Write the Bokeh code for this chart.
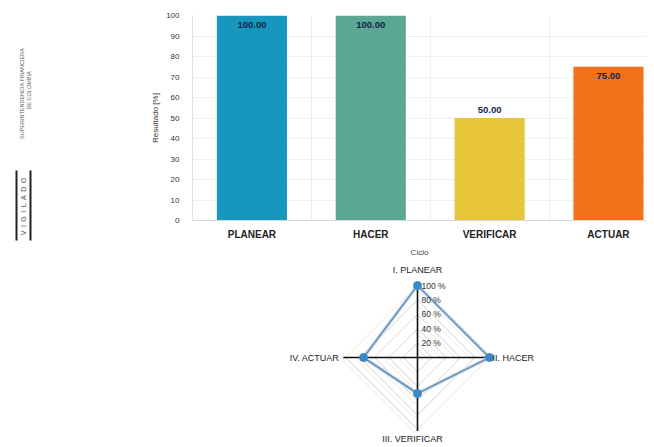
from bokeh.plotting import figure
from bokeh.layouts import column, row
from bokeh.models import Range1d, FixedTicker, ColumnDataSource, Spacer
from bokeh.core.properties import value
from bokeh.embed import file_html
from bokeh.resources import INLINE
import math

# ---------------- data ----------------
categories = ["PLANEAR", "HACER", "VERIFICAR", "ACTUAR"]
results = [100, 100, 50, 75]
bar_colors = ["#1796be", "#5ba794", "#e8c63c", "#f2711b"]
y_ticks = [0, 10, 20, 30, 40, 50, 60, 70, 80, 90, 100]

radar_labels = ["I. PLANEAR", "II. HACER", "III. VERIFICAR", "IV. ACTUAR"]
radar_values = [100, 100, 50, 75]
radar_levels = [20, 40, 60, 80, 100]
radar_level_labels = ["20 %", "40 %", "60 %", "80 %", "100 %"]

FONT = "Liberation Sans"
LEFT_W = 138

# ---------------- left decoration ----------------
left = figure(width=LEFT_W, height=447, output_backend="svg", toolbar_location=None, title=None,
              x_range=Range1d(0, LEFT_W), y_range=Range1d(447, 0), min_border=0,
              x_axis_location=None, y_axis_location=None)
left.grid.visible = False
left.outline_line_color = None
left.text(x=[21], y=[93], text=["SUPERINTENDENCIA FINANCIERA"], angle=math.pi / 2,
          text_align="center", text_baseline="middle", text_font=value(FONT),
          text_font_size="5.5px", text_color="#666666")
left.text(x=[28], y=[90], text=["DE COLOMBIA"], angle=math.pi / 2,
          text_align="center", text_baseline="middle", text_font=value(FONT),
          text_font_size="5.5px", text_color="#666666")
left.text(x=[23], y=[206], text=["\u2002".join("VIGILADO")], angle=math.pi / 2,
          text_align="center", text_baseline="middle", text_font=value(FONT),
          text_font_size="7px", text_color="#555555")
left.segment(x0=[16, 30], y0=[170, 170], x1=[16, 30], y1=[240, 240],
             line_color="#222222", line_width=2)

# ---------------- bar chart ----------------
xs = list(range(len(categories)))
p = figure(width=646 - LEFT_W, height=260, output_backend="svg", toolbar_location=None, title=None,
           x_range=Range1d(-0.5, 3.32), y_range=Range1d(0, 100),
           min_border_left=192 - LEFT_W, min_border_right=0, min_border_top=15, min_border_bottom=40)
p.outline_line_color = None
p.vbar(x=xs, top=results, width=0.59, fill_color=bar_colors, line_color=None)

# value labels: inside bar when tall, above otherwise
lab_off = [9 if v >= 60 else -8 for v in results]
src = ColumnDataSource(dict(x=xs, y=results, t=["%.2f" % v for v in results], off=lab_off))
p.text(x="x", y="y", text="t", y_offset="off", source=src, text_align="center",
       text_baseline="middle", text_font=value(FONT), text_font_size="9.5px",
       text_font_style="bold", text_color="#13234a")

p.xaxis.ticker = FixedTicker(ticks=xs)
p.xaxis.major_label_overrides = {i: c for i, c in zip(xs, categories)}
p.xaxis.major_tick_line_color = None
p.xaxis.major_tick_out = 0
p.xaxis.major_tick_in = 0
p.xaxis.minor_tick_line_color = None
p.xaxis.axis_line_color = "#d8d8d8"
p.xaxis.major_label_text_font = FONT
p.xaxis.major_label_text_font_size = "10px"
p.xaxis.major_label_text_font_style = "bold"
p.xaxis.major_label_text_color = "#222222"
p.xaxis.major_label_standoff = 8
p.xaxis.axis_label = "Ciclo"
p.xaxis.axis_label_text_font = FONT
p.xaxis.axis_label_text_font_size = "8px"
p.xaxis.axis_label_text_font_style = "normal"
p.xaxis.axis_label_text_color = "#444444"
p.xaxis.axis_label_standoff = 5

p.yaxis.ticker = FixedTicker(ticks=y_ticks)
p.yaxis.major_tick_line_color = None
p.yaxis.major_tick_out = 0
p.yaxis.major_tick_in = 0
p.yaxis.minor_tick_line_color = None
p.yaxis.axis_line_color = "#e0e0e0"
p.yaxis.major_label_text_font = FONT
p.yaxis.major_label_text_font_size = "8px"
p.yaxis.major_label_text_color = "#333333"
p.yaxis.major_label_standoff = 13
p.yaxis.axis_label = "Resultado [%]"
p.yaxis.axis_label_text_font = FONT
p.yaxis.axis_label_text_font_size = "8px"
p.yaxis.axis_label_text_font_style = "normal"
p.yaxis.axis_label_text_color = "#333333"
p.yaxis.axis_label_standoff = 3

p.ygrid.ticker = FixedTicker(ticks=y_ticks)
p.ygrid.grid_line_color = "#f0f0f0"
p.xgrid.ticker = FixedTicker(ticks=[x + 0.5 for x in xs[:-1]])
p.xgrid.grid_line_color = "#eeeeee"

# ---------------- radar chart ----------------
R = 72.0
rad = figure(width=290, height=187, output_backend="svg", toolbar_location=None, title=None,
             x_range=Range1d(-147 / R, 143 / R), y_range=Range1d(-90 / R, 97 / R),
             min_border=0, x_axis_location=None, y_axis_location=None)
rad.grid.visible = False
rad.outline_line_color = None

n = len(radar_labels)
angles = [math.pi / 2 - 2 * math.pi * i / n for i in range(n)]

for lv in radar_levels:
    r = lv / 100.0
    gx = [r * math.cos(a) for a in angles] + [r * math.cos(angles[0])]
    gy = [r * math.sin(a) for a in angles] + [r * math.sin(angles[0])]
    rad.line(gx, gy, line_color="#d2d2d2", line_width=1)
    rad.line([v - 0.04 for v in gx], [v - 0.04 for v in gy], line_color="#f7e6cf", line_width=1)

# axes
rad.segment(x0=[0, -1.03], y0=[1.0, 0], x1=[0, 1.0], y1=[-1.02, 0],
            line_color="#111111", line_width=1.6)

vx = [v / 100.0 * math.cos(a) for v, a in zip(radar_values, angles)]
vy = [v / 100.0 * math.sin(a) for v, a in zip(radar_values, angles)]
rad.line(vx + [vx[0]], vy + [vy[0]], line_color="#d3e6f6", line_width=4)
rad.line(vx + [vx[0]], vy + [vy[0]], line_color="#6a8fb3", line_width=1.6)
rad.scatter(vx, vy, size=8, fill_color="#3a89c9", line_color="#3a89c9")

# level labels
rad.text(x=[0] * len(radar_levels), y=[lv / 100.0 for lv in radar_levels], text=radar_level_labels,
         x_offset=4, text_align="left", text_baseline="middle", text_font=value(FONT),
         text_font_size="8.5px", text_color="#333333")

# category labels
CAT_SIZE = "9px"
rad.text(x=[0], y=[1.0], text=[radar_labels[0]], y_offset=-16, text_align="center",
         text_baseline="middle", text_font=value(FONT), text_font_size=CAT_SIZE, text_color="#222222")
rad.text(x=[1.0], y=[0], text=[radar_labels[1]], x_offset=3, text_align="left",
         text_baseline="middle", text_font=value(FONT), text_font_size=CAT_SIZE, text_color="#222222")
rad.text(x=[0], y=[-1.0], text=[radar_labels[2]], x_offset=-5, y_offset=9,
         text_align="center", text_baseline="middle", text_font=value(FONT),
         text_font_size=CAT_SIZE, text_color="#222222")
rad.text(x=[-1.03], y=[0], text=[radar_labels[3]], x_offset=-4, text_align="right",
         text_baseline="middle", text_font=value(FONT), text_font_size=CAT_SIZE, text_color="#222222")

layout = row(left, column(p, row(Spacer(width=270 - LEFT_W, height=187), rad)))

open("out.html", "w").write(file_html(layout, INLINE))
